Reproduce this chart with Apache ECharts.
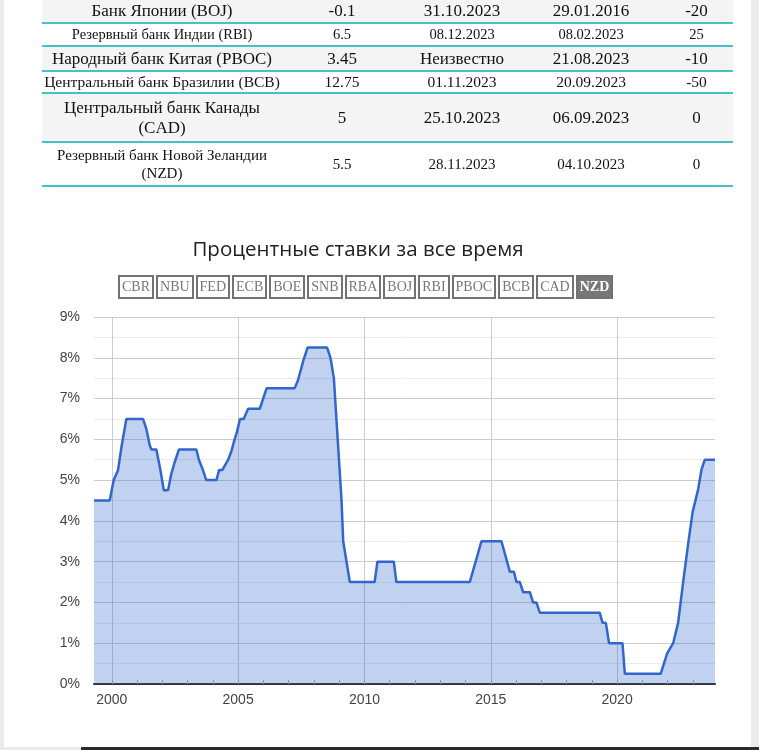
<!DOCTYPE html>
<html>
<head>
<meta charset="utf-8">
<script src="https://cdn.jsdelivr.net/npm/echarts@6/dist/echarts.min.js"></script>
<style>
  html, body { margin: 0; padding: 0; }
  body {
    width: 759px; height: 750px; position: relative; overflow: hidden;
    background: #ebebeb; color: #111;
    font-family: 'Liberation Serif', 'DejaVu Serif', serif;
  }
  #page { position: absolute; left: 4px; top: 0; width: 747px; height: 747px; background: #fff; }
  #chart { position: absolute; left: 0; top: 0; width: 759px; height: 750px; }
  #rates { position: absolute; left: 42px; top: 0; width: 691px; z-index: 2; }
  .row {
    display: grid; grid-template-columns: 240px 120px 120px 138px 73px;
    align-items: center; text-align: center; box-sizing: border-box;
    border-bottom: 2px solid #45bfc8;
  }
  .row:nth-child(odd) { background: #f4f4f4; }
  #bank-buttons { position: absolute; left: 118px; top: 275px; display: flex; gap: 2px; z-index: 2; }
  #bank-buttons span {
    display: inline-block; box-sizing: border-box; height: 24px; line-height: 20px;
    padding: 0 2px; border: 2px solid #727272; background: #fff;
    font-size: 14px; color: #777;
  }
  #bank-buttons span.is-active { background: #777; color: #fff; font-weight: bold; }
  #taskbar { position: absolute; left: 81px; top: 747px; width: 678px; height: 3px; background: #2a2a2a; }
</style>
</head>
<body>
<div id="page"></div>
<div id="chart"></div>
<div id="rates"></div>
<div id="bank-buttons"></div>
<div id="taskbar"></div>
<script>
// table rows (only the visible bottom part of the table)
const bankNames = ['Банк Японии (BOJ)', 'Резервный банк Индии (RBI)', 'Народный банк Китая (PBOC)',
  'Центральный банк Бразилии (BCB)', 'Центральный банк Канады<br>(CAD)', 'Резервный банк Новой Зеландии<br>(NZD)'];
const currentRates = ['-0.1', '6.5', '3.45', '12.75', '5', '5.5'];
const nextMeetings = ['31.10.2023', '08.12.2023', 'Неизвестно', '01.11.2023', '25.10.2023', '28.11.2023'];
const lastChangeDates = ['29.01.2016', '08.02.2023', '21.08.2023', '20.09.2023', '06.09.2023', '04.10.2023'];
const lastChanges = ['-20', '25', '-10', '-50', '0', '0'];
const rowHeights = [24, 23, 25, 22, 49, 44];
const rowFonts = [17, 14.5, 17, 15.5, 17, 15];

const bankCodes = ['CBR', 'NBU', 'FED', 'ECB', 'BOE', 'SNB', 'RBA', 'BOJ', 'RBI', 'PBOC', 'BCB', 'CAD', 'NZD'];
const activeBank = 'NZD';

// NZD official cash rate
const rateDates = [
  '1999-04-19', '1999-12-02', '2000-01-29', '2000-04-01', '2000-05-19', '2000-07-30',
  '2001-03-28', '2001-05-16', '2001-07-04', '2001-07-28', '2001-10-07', '2001-12-04',
  '2002-01-22', '2002-03-25', '2002-05-10', '2002-06-25', '2002-08-28',
  '2003-05-07', '2003-06-13', '2003-08-10', '2003-09-28',
  '2004-02-22', '2004-04-01', '2004-05-19', '2004-08-10', '2004-09-28', '2004-11-07', '2004-12-10',
  '2005-01-28', '2005-03-22', '2005-05-25', '2005-11-10', '2006-02-16',
  '2007-03-28', '2007-05-16', '2007-08-04', '2007-10-01',
  '2008-07-10', '2008-08-28', '2008-10-16', '2009-02-04', '2009-02-28', '2009-06-04',
  '2010-05-28', '2010-07-07', '2011-03-01', '2011-04-07',
  '2014-03-04', '2014-08-19', '2015-06-04', '2015-10-04', '2015-12-01',
  '2016-01-07', '2016-02-25', '2016-04-13', '2016-07-19', '2016-09-04', '2016-10-22', '2016-12-10',
  '2019-04-25', '2019-06-04', '2019-07-22', '2019-09-07', '2020-03-19', '2020-04-22',
  '2021-09-22', '2021-12-25', '2022-03-22', '2022-06-01', '2022-08-13', '2022-10-25', '2022-12-28',
  '2023-03-16', '2023-05-04', '2023-06-22', '2023-11-16'
];
const rateValues = [
  4.5, 4.5, 5.0, 5.25, 5.8, 6.5,
  6.5, 6.25, 5.85, 5.75, 5.75, 5.25,
  4.75, 4.75, 5.15, 5.42, 5.75,
  5.75, 5.5, 5.25, 5.0,
  5.0, 5.25, 5.25, 5.5, 5.72, 5.98, 6.15,
  6.5, 6.5, 6.75, 6.75, 7.25,
  7.25, 7.45, 7.95, 8.25,
  8.25, 8.0, 7.5, 4.5, 3.5, 2.5,
  2.5, 3.0, 3.0, 2.5,
  2.5, 3.5, 3.5, 2.75, 2.75,
  2.5, 2.5, 2.25, 2.25, 2.0, 2.0, 1.75,
  1.75, 1.5, 1.5, 1.0, 1.0, 0.25,
  0.25, 0.75, 1.0, 1.5, 2.5, 3.45, 4.22,
  4.76, 5.25, 5.5, 5.5
];

const yearLabels = [2000, 2005, 2010, 2015, 2020];
const yearTicks = [2000, 2001, 2002, 2003, 2004, 2005, 2006, 2007, 2008, 2009, 2010, 2011,
  2012, 2013, 2014, 2015, 2016, 2017, 2018, 2019, 2020, 2021, 2022, 2023];

function toYear(text) {
  const [y, m, d] = text.split('-').map(Number);
  const start = Date.UTC(y, 0, 1);
  const end = Date.UTC(y + 1, 0, 1);
  return y + (Date.UTC(y, m - 1, d) - start) / (end - start);
}

function buildTable() {
  const box = document.getElementById('rates');
  box.innerHTML = bankNames.map((name, i) => `
    <div class="row" style="height:${rowHeights[i]}px;font-size:${rowFonts[i]}px;line-height:${rowFonts[i] + 3}px">
      <div>${name}</div><div>${currentRates[i]}</div><div>${nextMeetings[i]}</div>
      <div>${lastChangeDates[i]}</div><div>${lastChanges[i]}</div>
    </div>`).join('');
}

function buildButtons() {
  const box = document.getElementById('bank-buttons');
  box.innerHTML = bankCodes
    .map((code) => `<span class="${code === activeBank ? 'is-active' : ''}">${code}</span>`)
    .join('');
}

function buildChart() {
  const chart = echarts.init(document.getElementById('chart'), null, { renderer: 'canvas' });
  const points = rateDates.map((d, i) => [toYear(d), rateValues[i]]);
  const xMin = points[0][0];
  const xMax = points[points.length - 1][0];
  const axisFont = { color: '#444', fontSize: 14, fontFamily: 'Liberation Sans, Arial, sans-serif' };

  chart.setOption({
    backgroundColor: 'transparent',
    animation: false,
    graphic: [{
      type: 'text',
      x: 358,
      y: 250,
      style: {
        text: 'Процентные ставки за все время',
        align: 'center',
        verticalAlign: 'middle',
        fill: '#222',
        font: '20.5px "Open Sans", "Noto Sans", sans-serif'
      }
    }],
    grid: { left: 94, right: 44, top: 317, bottom: 66 },
    xAxis: [{
      type: 'value',
      min: xMin,
      max: xMax,
      position: 'bottom',
      axisLine: { show: true, lineStyle: { color: '#333', width: 2 } },
      axisTick: { show: true, inside: true, length: 4, customValues: yearTicks, lineStyle: { color: '#aaa' } },
      axisLabel: { ...axisFont, margin: 9, customValues: yearLabels, formatter: (v) => String(Math.round(v)) },
      splitLine: { show: false }
    }, {
      type: 'value',
      min: xMin,
      max: xMax,
      position: 'bottom',
      axisLine: { show: false },
      axisTick: { show: false, customValues: yearLabels },
      axisLabel: { show: false },
      splitLine: { show: true, lineStyle: { color: '#ccc', width: 1 } }
    }],
    yAxis: {
      type: 'value',
      min: 0,
      max: 9,
      interval: 1,
      axisLine: { show: false },
      axisTick: { show: false },
      axisLabel: { ...axisFont, margin: 14, formatter: '{value}%' },
      splitLine: { lineStyle: { color: '#ccc', width: 1 } },
      minorTick: { show: false, splitNumber: 2 },
      minorSplitLine: { show: true, lineStyle: { color: '#ebebeb', width: 1 } }
    },
    series: [{
      name: 'NZD',
      type: 'line',
      xAxisIndex: 0,
      data: points,
      showSymbol: false,
      lineStyle: { color: '#3366cc', width: 2.5 },
      areaStyle: { color: '#3366cc', opacity: 0.3 }
    }]
  });
}

window.addEventListener('DOMContentLoaded', () => {
  buildTable();
  buildButtons();
  buildChart();
});
</script>
</body>
</html>
